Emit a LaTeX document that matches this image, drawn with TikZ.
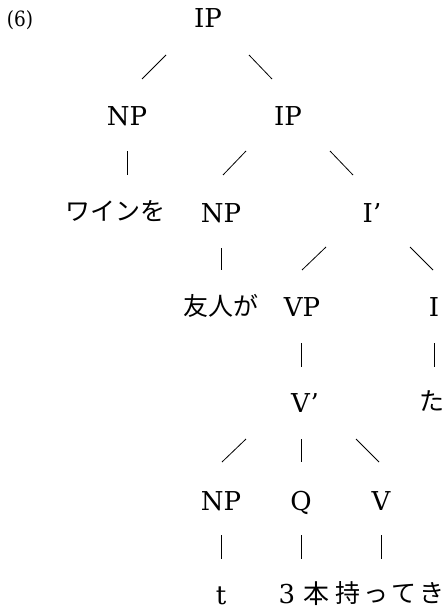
\documentclass[tikz,border=0pt]{standalone}
\usepackage{graphicx}
\usepackage{fontspec}
\setmainfont{DejaVu Serif}
\newfontfamily\jp{Noto Sans CJK JP}
\begin{document}
\begin{tikzpicture}[x=1pt,y=-1pt,
  lab/.style={anchor=base,inner sep=0pt,font=\fontsize{26}{30}\selectfont},
  jlab/.style={anchor=base,inner sep=0pt,font=\fontsize{25}{30}\selectfont\jp},
  edge/.style={line width=0.8pt}]
\useasboundingbox (0,0) rectangle (446,610);
\node[anchor=base,inner sep=0pt,font=\fontsize{21}{24}\selectfont] (num) at (20,27) {\scalebox{0.88}[1]{(6)}};
% row 1
\node[lab] (ip0) at (208,28) {IP};
% row 2
\node[lab] (np1) at (127,125) {NP};
\node[lab] (ip1) at (288,125) {IP};
% row 3
\node[jlab] (wine) at (115,220) {ワインを};
\node[lab] (np2) at (221,222) {NP};
\node[lab] (ibar) at (372,222) {I'};
% row 4
\node[jlab] (friend) at (221,315) {友人が};
\node[lab] (vp) at (302,316) {VP};
\node[lab] (i) at (434,316) {I};
% row 5
\node[lab] (vbar) at (305,412) {V'};
\node[jlab] (ta) at (432,410) {た};
% row 6
\node[lab] (np3) at (221,510) {NP};
\node[lab] (q) at (301,510) {Q};
\node[lab] (v) at (381,510) {V};
% row 7
\node[lab] (t) at (221,604) {t};
\node[lab] (three) at (304,603) {3 {\jp 本}};
\node[jlab] (motte) at (390,602) {持\kern3ptっ\kern3ptて\kern3ptき};
% connectors
\draw[edge] ([shift={(-42,27)}]ip0.base) -- ([shift={(15,-46)}]np1.base);
\draw[edge] ([shift={(41,27)}]ip0.base) -- ([shift={(-16,-46)}]ip1.base);
\draw[edge] ([shift={(0,26)}]np1.base) -- ([shift={(12,-45)}]wine.base);
\draw[edge] ([shift={(-42,26)}]ip1.base) -- ([shift={(2,-47)}]np2.base);
\draw[edge] ([shift={(42,26)}]ip1.base) -- ([shift={(-19,-47)}]ibar.base);
\draw[edge] ([shift={(0,26)}]np2.base) -- ([shift={(0,-45)}]friend.base);
\draw[edge] ([shift={(-46,25)}]ibar.base) -- ([shift={(0,-46)}]vp.base);
\draw[edge] ([shift={(38,25)}]ibar.base) -- ([shift={(-1,-46)}]i.base);
\draw[edge] ([shift={(-1,27)}]vp.base) -- ([shift={(-4,-45)}]vbar.base);
\draw[edge] ([shift={(0,27)}]i.base) -- ([shift={(2,-43)}]ta.base);
\draw[edge] ([shift={(-59,27)}]vbar.base) -- ([shift={(1,-48)}]np3.base);
\draw[edge] ([shift={(-4,27)}]vbar.base) -- ([shift={(0,-48)}]q.base);
\draw[edge] ([shift={(51,27)}]vbar.base) -- ([shift={(-2,-48)}]v.base);
\draw[edge] ([shift={(0,25)}]np3.base) -- ([shift={(0,-45)}]t.base);
\draw[edge] ([shift={(0,25)}]q.base) -- ([shift={(-3,-44)}]three.base);
\draw[edge] ([shift={(0,25)}]v.base) -- ([shift={(-9,-43)}]motte.base);
\end{tikzpicture}
\end{document}
